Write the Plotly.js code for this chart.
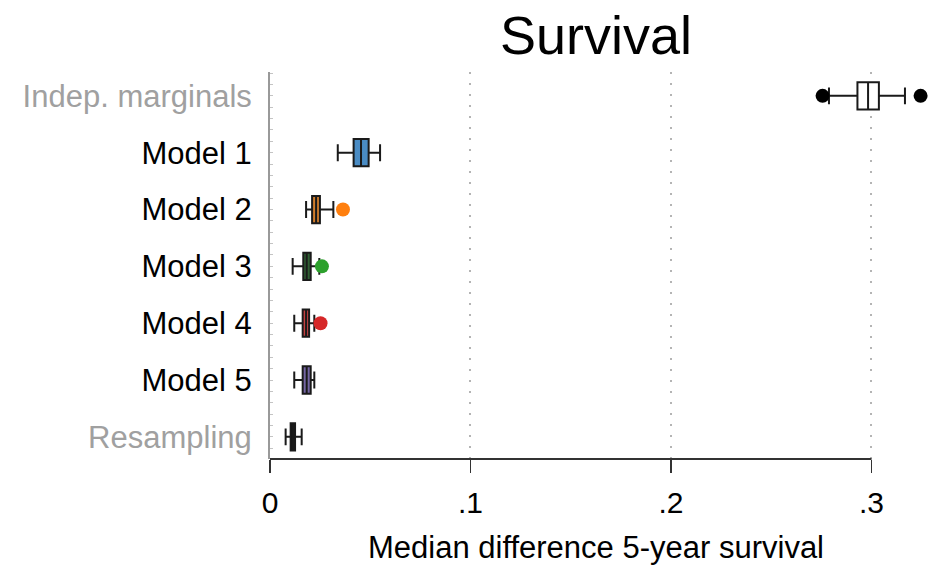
<!DOCTYPE html>
<html>
<head>
<meta charset="utf-8">
<script src="https://cdn.plot.ly/plotly-3.0.1.min.js"></script>
<style>
  html, body { margin: 0; padding: 0; background: #fff; }
  #chart { width: 935px; height: 567px; }
</style>
</head>
<body>
<div id="chart"></div>
<script>
// Rows, top to bottom
const categories = ['Indep. marginals', 'Model 1', 'Model 2', 'Model 3', 'Model 4', 'Model 5', 'Resampling'];
const labelColors = ['#a0a0a0', '#000000', '#000000', '#000000', '#000000', '#000000', '#a0a0a0'];

// Box statistics per row
const lowerWhisker = [0.2788, 0.0338, 0.0180, 0.0113, 0.0121, 0.0121, 0.0078];
const q1           = [0.2930, 0.0417, 0.0210, 0.0166, 0.0163, 0.0163, 0.0103];
const medians      = [0.2983, 0.0454, 0.0230, 0.0183, 0.0180, 0.0183, 0.0115];
const q3           = [0.3037, 0.0492, 0.0249, 0.0203, 0.0195, 0.0203, 0.0125];
const upperWhisker = [0.3167, 0.0549, 0.0316, 0.0246, 0.0221, 0.0221, 0.0158];

// Outlying points per row
const outliers = [[0.2756, 0.3245], [], [0.0364], [0.0259], [0.0252], [], []];

// Colours
const boxFill = ['#ffffff', '#4a8cc4', '#d07d2c', '#2f5f33', '#c44040', '#7465a4', '#111111'];
const outlierColor = ['#000000', '#1f77b4', '#ff7f0e', '#2ca02c', '#d62728', '#9467bd', '#000000'];

// X axis ticks
const xTickVals = [0, 0.1, 0.2, 0.3];
const xTickText = ['0', '.1', '.2', '.3'];

const FONT = 'Liberation Sans, Arial, sans-serif';
const traces = [];

categories.forEach((name, i) => {
  traces.push({
    type: 'box',
    orientation: 'h',
    y: [i],
    q1: [q1[i]],
    median: [medians[i]],
    q3: [q3[i]],
    lowerfence: [lowerWhisker[i]],
    upperfence: [upperWhisker[i]],
    boxpoints: false,
    width: 0.48,
    whiskerwidth: 0.62,
    fillcolor: boxFill[i],
    line: { color: '#1a1a1a', width: 2 },
    showlegend: false,
    hoverinfo: 'skip'
  });
  if (outliers[i].length) {
    traces.push({
      type: 'scatter',
      mode: 'markers',
      x: outliers[i],
      y: outliers[i].map(() => i),
      marker: { size: 14, color: outlierColor[i], line: { width: 0 } },
      cliponaxis: false,
      showlegend: false,
      hoverinfo: 'skip'
    });
  }
});

const layout = {
  width: 935,
  height: 567,
  margin: { l: 270, r: 13, t: 72, b: 108 },
  paper_bgcolor: '#ffffff',
  plot_bgcolor: '#ffffff',
  font: { family: FONT, color: '#000' },
  title: {
    text: 'Survival',
    font: { family: FONT, size: 54, color: '#000' },
    x: 0.5, xref: 'paper', xanchor: 'center',
    y: 0.938, yref: 'container', yanchor: 'middle'
  },
  xaxis: {
    range: [0, 0.3252],
    tickvals: xTickVals,
    ticktext: xTickText,
    ticks: 'outside',
    ticklen: 13,
    tickwidth: 1.5,
    tickcolor: '#333333',
    ticklabelstandoff: 4,
    tickfont: { family: FONT, size: 30, color: '#000' },
    showline: false,
    zeroline: false,
    showgrid: true,
    gridcolor: '#b4b4b4',
    gridwidth: 2,
    griddash: '2px,9px',
    title: {
      text: 'Median difference 5-year survival',
      font: { family: FONT, size: 31, color: '#000' },
      standoff: 18
    }
  },
  yaxis: {
    range: [6.39, -0.42],
    tickvals: categories.map((_, i) => i),
    ticktext: categories.map((c, i) => '<span style="color:' + labelColors[i] + '">' + c + '</span>'),
    tickfont: { family: FONT, size: 31, color: '#000' },
    ticks: '',
    ticklabelstandoff: 10,
    showgrid: false,
    zeroline: false,
    showline: true,
    linecolor: '#999999',
    linewidth: 2,
    minor: { ticks: 'inside', ticklen: 3, tickcolor: '#c4c4c4', tickwidth: 1, dtick: 0.2, tick0: 0, showgrid: false }
  },
  shapes: [{
    type: 'line',
    xref: 'x', yref: 'paper',
    x0: xTickVals[0], x1: xTickVals[xTickVals.length - 1],
    y0: 0, y1: 0,
    line: { color: '#333333', width: 2 }
  }]
};

Plotly.newPlot('chart', traces, layout, { staticPlot: true, displayModeBar: false });
</script>
</body>
</html>
